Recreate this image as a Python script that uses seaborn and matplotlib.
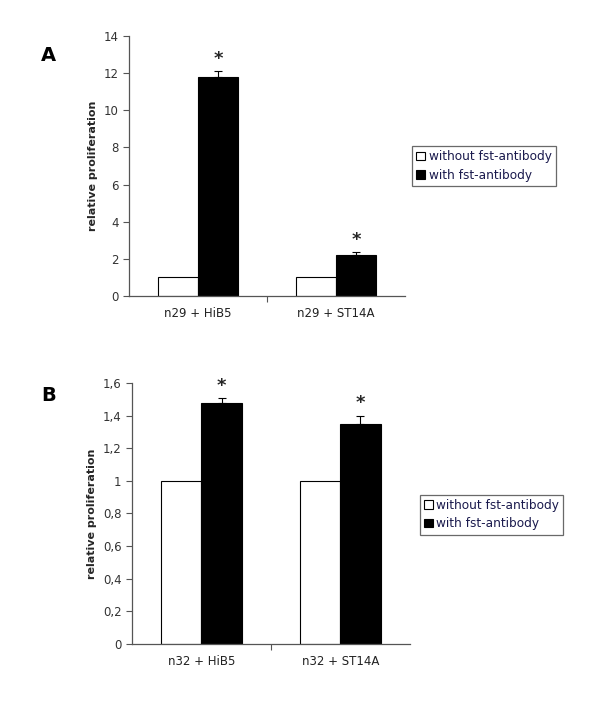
import pandas as pd
import matplotlib
matplotlib.use("Agg")
import matplotlib.pyplot as plt
import seaborn as sns
from matplotlib.patches import Patch

sns.set_style("white")
plt.rcParams["font.family"] = ["DejaVu Sans"]

# Datos
grupos = ["without fst-antibody", "with fst-antibody"]

cat_a = ["n29 + HiB5", "n29 + ST14A"]
sin_a = [1.0, 1.0]
con_a = [11.8, 2.2]
err_a = [0.3, 0.15]

cat_b = ["n32 + HiB5", "n32 + ST14A"]
sin_b = [1.0, 1.0]
con_b = [1.48, 1.35]
err_b = [0.03, 0.05]

ticks_a = [0, 2, 4, 6, 8, 10, 12, 14]
ticks_b = [0, 0.2, 0.4, 0.6, 0.8, 1.0, 1.2, 1.4, 1.6]
labels_b = ["0", "0,2", "0,4", "0,6", "0,8", "1", "1,2", "1,4", "1,6"]


def panel(ax, cats, sin, con, err, ticks, labels, ymax, letra, leg_pos, letra_pos):
    df = pd.DataFrame({
        "cat": cats * 2,
        "grupo": [grupos[0]] * len(cats) + [grupos[1]] * len(cats),
        "valor": sin + con,
    })
    sns.barplot(data=df, x="cat", y="valor", hue="grupo", hue_order=grupos,
                palette=["white", "black"], edgecolor="black", linewidth=0.8,
                width=0.58, ax=ax, legend=False)
    # barras de error (solo hacia arriba) y asteriscos
    barras = [p for p in ax.patches if p.get_height() > 0]
    barras = sorted(barras, key=lambda p: p.get_x())
    negras = [p for p in barras if p.get_facecolor()[0] < 0.5]
    for p, e in zip(negras, err):
        xc = p.get_x() + p.get_width() / 2
        h = p.get_height()
        ax.errorbar(xc, h, yerr=[[0], [e]], fmt="none", ecolor="black",
                    elinewidth=0.8, capsize=3, capthick=0.8)
        ax.text(xc, h + e + ymax * 0.012, "*", ha="center", va="bottom",
                fontsize=13, fontweight="bold")

    ax.set_xlim(-0.5, 1.5)
    ax.set_ylim(0, ymax)
    ax.set_yticks(ticks)
    ax.set_yticklabels(labels, fontsize=8.5, color="#333333")
    ax.set_xticks([0, 1])
    ax.set_xticklabels(cats, fontsize=8.5, color="#222222")
    ax.set_xticks([0.5], minor=True)
    ax.tick_params(axis="x", which="major", length=0, pad=8)
    ax.tick_params(axis="x", which="minor", length=4, width=0.8, direction="out",
                   bottom=True, color="#555555")
    ax.tick_params(axis="y", length=4, width=0.8, direction="out", left=True,
                   color="#555555")
    ax.set_xlabel("")
    ax.set_ylabel("relative proliferation", fontsize=8, fontweight="bold")
    for s in ["top", "right"]:
        ax.spines[s].set_visible(False)
    for s in ["left", "bottom"]:
        ax.spines[s].set_color("#555555")
        ax.spines[s].set_linewidth(0.9)

    handles = [Patch(facecolor="white", edgecolor="black", linewidth=0.8),
               Patch(facecolor="black", edgecolor="black", linewidth=0.8)]
    leg = fig.legend(handles, grupos, loc="upper left", bbox_to_anchor=leg_pos,
                     fontsize=8.7, frameon=True, fancybox=False, handlelength=0.7,
                     handleheight=0.7, handletextpad=0.3, borderpad=0.35,
                     labelspacing=0.45, borderaxespad=0)
    leg.get_frame().set_edgecolor("#444444")
    leg.get_frame().set_linewidth(0.9)
    for t in leg.get_texts():
        t.set_color("#1a1a4d")

    fig.text(letra_pos[0], letra_pos[1], letra, fontsize=14, fontweight="bold",
             color="black")


fig = plt.figure(figsize=(6, 7.2), dpi=100)
ax_a = fig.add_axes([0.215, 0.589, 0.46, 0.361])
ax_b = fig.add_axes([0.22, 0.1056, 0.463, 0.3625])

panel(ax_a, cat_a, sin_a, con_a, err_a, ticks_a, [str(t) for t in ticks_a], 14,
      "A", (0.687, 0.797), (0.068, 0.915))
panel(ax_b, cat_b, sin_b, con_b, err_b, ticks_b, labels_b, 1.6,
      "B", (0.700, 0.313), (0.068, 0.443))

plt.savefig("out.png", dpi=100)
plt.close()
